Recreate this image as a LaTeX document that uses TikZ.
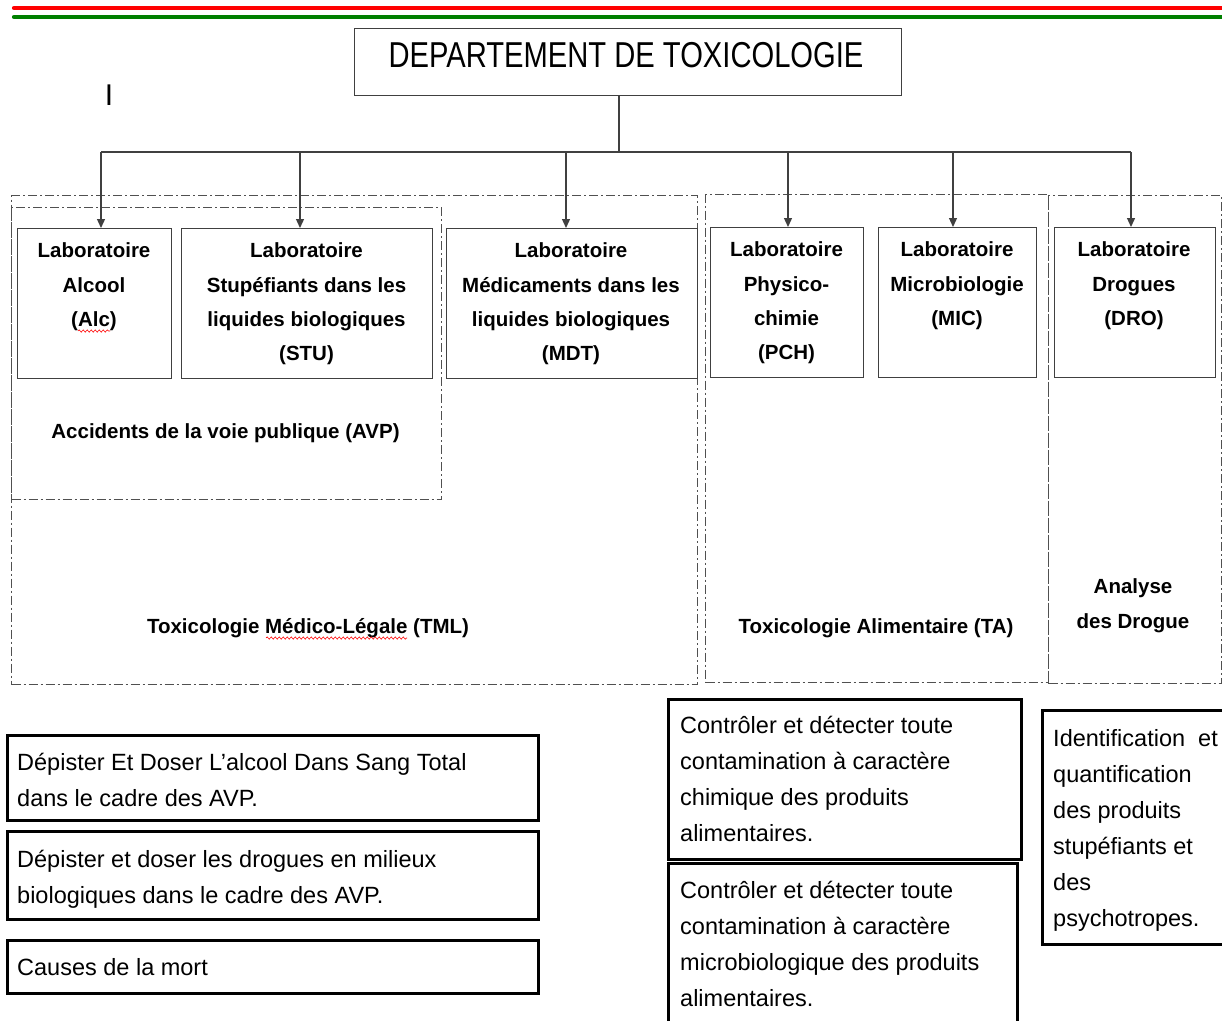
\documentclass[tikz,border=0pt]{standalone}
\usepackage{fontspec}
\setmainfont{Liberation Sans}
\usetikzlibrary{arrows.meta,decorations.pathmorphing}
\definecolor{rline}{RGB}{255,0,0}
\definecolor{gline}{RGB}{0,128,0}
\definecolor{edgec}{RGB}{64,64,64}
\definecolor{dashc}{RGB}{80,80,80}
\begin{document}
\begin{tikzpicture}[x=1pt,y=-1pt,
  labbox/.style={draw=edgec, line width=1.3pt, inner sep=0pt, anchor=north west},
  labtext/.style={inner sep=0pt, anchor=north, align=center, font=\fontsize{20.5}{34.3}\selectfont\bfseries},
  grouptext/.style={inner sep=0pt, anchor=base, font=\fontsize{20.5}{34.3}\selectfont\bfseries},
  groupbox/.style={draw=dashc, line width=1pt, dash pattern=on 9pt off 3pt on 2pt off 3pt, inner sep=0pt, anchor=north west},
  taskbox/.style={draw=black, line width=2.6pt, inner sep=0pt, anchor=north west},
  tasktext/.style={inner sep=0pt, anchor=north west, align=left, font=\fontsize{23.5}{36}\selectfont},
  conn/.style={draw=edgec, line width=1.3pt},
  arr/.style={conn, -{Triangle[length=9pt,width=8pt]}},
  squig/.style={draw=red, line width=0.6pt, decorate, decoration={snake, amplitude=1.1pt, segment length=4pt}}
]
\useasboundingbox (0,0) rectangle (1222,1020);

% header lines
\draw[color=rline, line width=4.2pt, line cap=round] (14,8) -- (1224,8);
\draw[color=gline, line width=4.2pt, line cap=round] (14,17) -- (1224,17);

% stray letter
\node[inner sep=0pt, anchor=base, font=\fontsize{30}{30}\selectfont] (stray) at (109,105) {I};

% department
\node[labbox, minimum width=547, minimum height=67] (dept) at (354,28) {};
\node[inner sep=0pt, anchor=base, font=\fontsize{36}{40}\selectfont] (deptT) at (626,67.5) {\scalebox{0.81}[1]{DEPARTEMENT DE TOXICOLOGIE}};

% group boxes
\node[groupbox, minimum width=686, minimum height=489] (tml) at (11,195) {};
\node[groupbox, minimum width=430, minimum height=292] (avp) at (11,207) {};
\node[groupbox, minimum width=343, minimum height=488] (ta) at (705,194) {};
\node[groupbox, minimum width=173, minimum height=488] (drog) at (1048,195) {};

% laboratory boxes
\node[labbox, minimum width=154, minimum height=150] (alc) at (17,228) {};
\node[labbox, minimum width=251, minimum height=150] (stu) at (181,228) {};
\node[labbox, minimum width=251, minimum height=150] (mdt) at (446,228) {};
\node[labbox, minimum width=153, minimum height=150] (pch) at (710,227) {};
\node[labbox, minimum width=158, minimum height=150] (mic) at (878,227) {};
\node[labbox, minimum width=161, minimum height=150] (dro) at (1054,227) {};

\node[labtext] (alcT) at (94,235.5) {\rule{0pt}{22pt}Laboratoire\\Alcool\\(Alc)};
\node[labtext] (stuT) at (306.5,235.5) {\rule{0pt}{22pt}Laboratoire\\Stupéfiants dans les\\liquides biologiques\\(STU)};
\node[labtext] (mdtT) at (571,235.5) {\rule{0pt}{22pt}Laboratoire\\Médicaments dans les\\liquides biologiques\\(MDT)};
\node[labtext] (pchT) at (786.5,234.5) {\rule{0pt}{22pt}Laboratoire\\Physico-\\chimie\\(PCH)};
\node[labtext] (micT) at (957,234.5) {\rule{0pt}{22pt}Laboratoire\\Microbiologie\\(MIC)};
\node[labtext] (droT) at (1134,234.5) {\rule{0pt}{22pt}Laboratoire\\Drogues\\(DRO)};

% group labels
\node[grouptext] (avpT) at (225.5,438.5) {Accidents de la voie publique (AVP)};
\node[grouptext] (tmlT) at (308,633) {Toxicologie Médico-Légale (TML)};
\node[grouptext] (taT) at (876,633) {Toxicologie Alimentaire (TA)};
\node[labtext] (anT) at (1133,571.5) {\rule{0pt}{22pt}Analyse\\des Drogue};

% spell-check marks
\draw[squig] (266,638) -- (407,638);
\draw[squig] (78,331) -- (110,331);

% connectors
\coordinate (d0) at (619,95);
\coordinate (d1) at (619,152);
\coordinate (a1) at (101,152);
\coordinate (a2) at (300,152);
\coordinate (a3) at (566,152);
\coordinate (a4) at (788,152);
\coordinate (a5) at (953,152);
\coordinate (a6) at (1131,152);
\draw[conn] (d0) -- (d1);
\draw[conn] (a1) -- (a6);
\draw[arr] (a1) -- (a1 |- alc.north);
\draw[arr] (a2) -- (a2 |- stu.north);
\draw[arr] (a3) -- (a3 |- mdt.north);
\draw[arr] (a4) -- (a4 |- pch.north);
\draw[arr] (a5) -- (a5 |- mic.north);
\draw[arr] (a6) -- (a6 |- dro.north);

% task boxes
\node[taskbox, minimum width=531, minimum height=85] (t1) at (6,734) {};
\node[taskbox, minimum width=531, minimum height=88] (t2) at (6,830) {};
\node[taskbox, minimum width=531, minimum height=53] (t3) at (6,939) {};
\node[taskbox, minimum width=353, minimum height=160] (t4) at (667,698) {};
\node[taskbox, minimum width=349, minimum height=175] (t5) at (667,862) {};
\node[taskbox, minimum width=200, minimum height=234] (t6) at (1041,709) {};

\node[tasktext] (t1T) at (17,746) {\rule{0pt}{24pt}Dépister Et Doser L’alcool Dans Sang Total\\dans le cadre des AVP.};
\node[tasktext] (t2T) at (17,843) {\rule{0pt}{24pt}Dépister et doser les drogues en milieux\\biologiques dans le cadre des AVP.};
\node[tasktext] (t3T) at (17,951) {\rule{0pt}{24pt}Causes de la mort};
\node[tasktext] (t4T) at (680,709) {\rule{0pt}{24pt}Contrôler et détecter toute\\contamination à caractère\\chimique des produits\\alimentaires.};
\node[tasktext] (t5T) at (680,874) {\rule{0pt}{24pt}Contrôler et détecter toute\\contamination à caractère\\microbiologique des produits\\alimentaires.};
\node[tasktext] (t6T) at (1053,722) {\rule{0pt}{24pt}Identification~ et\\quantification\\des produits\\stupéfiants et\\des\\psychotropes.};
\end{tikzpicture}
\end{document}
